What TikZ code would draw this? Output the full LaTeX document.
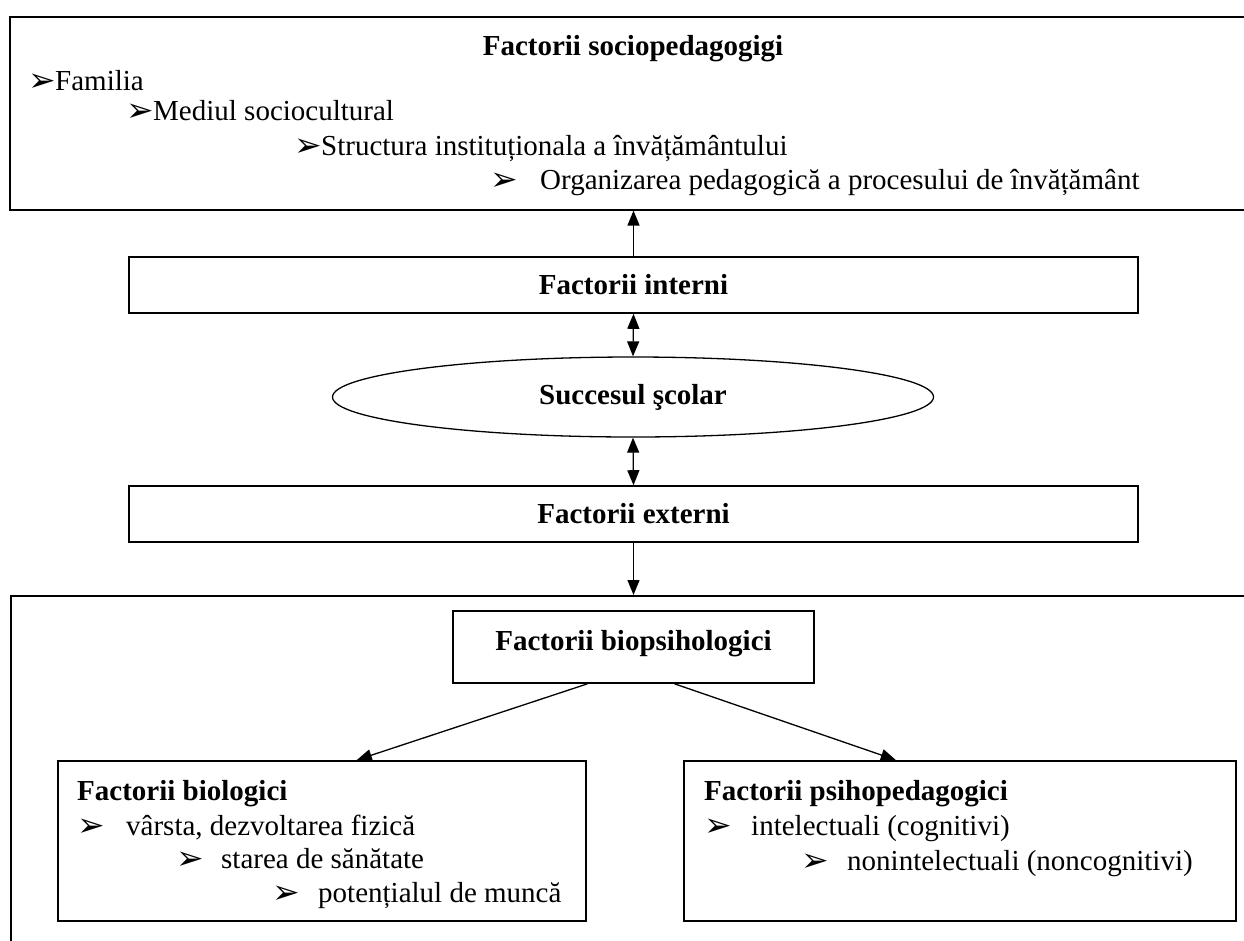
\documentclass[tikz,border=0pt]{standalone}
\usepackage{fontspec}
\setmainfont{Liberation Serif}
\newfontfamily\dingfont{DejaVu Sans}
\usepackage{tikz}
\usetikzlibrary{arrows.meta}
\usetikzlibrary{shapes.geometric}
\newcommand{\arrowbul}[1]{\makebox[#1][l]{\raisebox{-1pt}{\dingfont\fontsize{33}{33}\selectfont ➢}}}

\begin{document}
\begin{tikzpicture}[x=1pt,y=-1pt,
  every node/.style={font=\fontsize{29}{34}\selectfont},
  framebox/.style={draw, rectangle, line width=1.6pt, inner sep=0pt},
  headtext/.style={font=\fontsize{29}{34}\selectfont\bfseries},
  itemline/.style={inner sep=0pt, anchor=base west},
  arrowline/.style={line width=1.3pt, -{Triangle[length=15pt,width=12pt]}},
  duoarrow/.style={line width=1.3pt, {Triangle[length=15pt,width=12pt]}-{Triangle[length=15pt,width=12pt]}}]
\useasboundingbox (0,0) rectangle (1244,940);
\clip (0,0) rectangle (1244,940);

\node[framebox, anchor=north west, minimum width=1260pt, minimum height=193pt] (socio) at (9,16) {};
\node[headtext, anchor=base] (sociot) at (633,55) {Factorii sociopedagogigi};
\node[itemline] (fam) at (28,90) {\arrowbul{27pt}Familia};
\node[itemline] (med) at (126,120) {\arrowbul{27pt}Mediul sociocultural};
\node[itemline] (struct) at (294,155) {\arrowbul{27pt}Structura instituționala a învățământului};
\node[itemline] (org) at (490,189) {\arrowbul{50pt}Organizarea pedagogică a procesului de învățământ};

\node[framebox, headtext, minimum width=1009pt, minimum height=56pt] (intern) at (633.5,285) {Factorii interni};
\node[draw, ellipse, line width=1.3pt, inner sep=0pt, minimum width=601pt, minimum height=80pt, headtext] (succes) at (633,397) {Succesul şcolar};
\node[framebox, headtext, minimum width=1009pt, minimum height=56pt] (extern) at (633.5,514) {Factorii externi};

\node[framebox, anchor=north west, minimum width=1260pt, minimum height=400pt] (biopsi) at (10,595) {};
\node[framebox, headtext, minimum width=361pt, text height=39pt, text depth=33pt, anchor=base] (biopsih) at (633.5,650) {Factorii biopsihologici};

\node[framebox, anchor=north west, minimum width=528pt, minimum height=160pt] (biol) at (57,760) {};
\node[headtext, itemline] (biolt) at (77,800) {Factorii biologici};
\node[itemline] (varsta) at (77,835) {\arrowbul{49pt}vârsta, dezvoltarea fizică};
\node[itemline] (starea) at (176,868) {\arrowbul{45pt}starea de sănătate};
\node[itemline] (potential) at (272,902) {\arrowbul{46pt}potențialul de muncă};

\node[framebox, anchor=north west, minimum width=552pt, minimum height=160pt] (psih) at (683,760) {};
\node[headtext, itemline] (psiht) at (704,800) {Factorii psihopedagogici};
\node[itemline] (intel) at (704,835) {\arrowbul{47pt}intelectuali (cognitivi)};
\node[itemline] (nonintel) at (801,870) {\arrowbul{46pt}nonintelectuali (noncognitivi)};

\draw[arrowline] (intern.north) -- (intern.north |- socio.south);
\draw[duoarrow] (intern.south) -- (succes.north);
\draw[duoarrow] (succes.south) -- (extern.north);
\draw[arrowline] (extern.south) -- (extern.south |- biopsi.north);
\draw[arrowline] ([xshift=-46pt]biopsih.south) -- ([xshift=35pt]biol.north);
\draw[arrowline] ([xshift=41pt]biopsih.south) -- ([xshift=-64pt]psih.north);
\end{tikzpicture}
\end{document}
